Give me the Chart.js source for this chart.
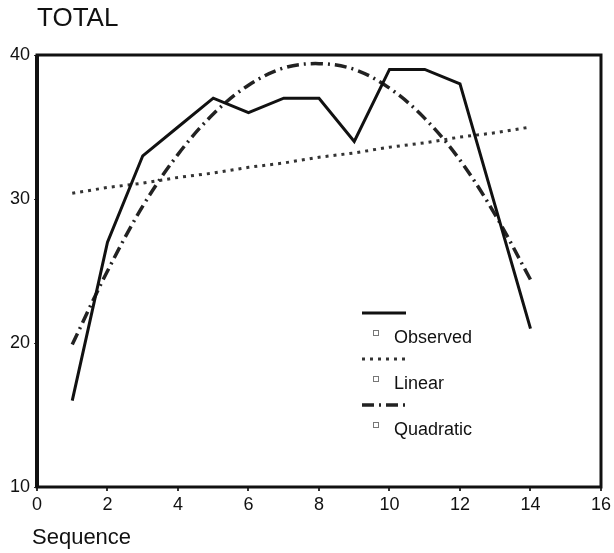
<!DOCTYPE html>
<html>
<head>
<meta charset="utf-8">
<script src="https://cdn.jsdelivr.net/npm/chart.js@4"></script>
<style>
  html, body { margin: 0; padding: 0; background: #fff; }
  #wrap { width: 614px; height: 553px; }
</style>
</head>
<body>
<div id="wrap"><canvas id="totalChart" width="614" height="553"></canvas></div>
<script>
const sequence = [1, 2, 3, 4, 5, 6, 7, 8, 9, 10, 11, 12, 13, 14];
const observed = [16, 27, 33, 35, 37, 36, 37, 37, 34, 39, 39, 38, 29.5, 21];
const linearFit = [30.4, 30.8, 31.1, 31.5, 31.8, 32.2, 32.5, 32.9, 33.2, 33.6, 33.9, 34.3, 34.6, 35.0];
const quadraticFit = [19.9, 25.0, 29.5, 33.1, 35.9, 37.9, 39.1, 39.4, 39.0, 37.7, 35.6, 32.7, 28.9, 24.4];
const xTicks = [0, 2, 4, 6, 8, 10, 12, 14, 16];
const yTicks = [10, 20, 30, 40];

const FONT = "'Liberation Sans', Arial, Helvetica, sans-serif";

function toPoints(values) {
  return sequence.map((x, i) => ({ x: x, y: values[i] }));
}

// frame, titles and the SPSS-style legend
const decorations = {
  id: "decorations",
  afterDraw(chart) {
    const ctx = chart.ctx;
    const area = chart.chartArea;

    ctx.save();
    ctx.strokeStyle = "#111";
    ctx.lineWidth = 3;
    ctx.strokeRect(area.left, area.top, area.right - area.left, area.bottom - area.top);
    ctx.lineWidth = 4;
    ctx.beginPath();
    ctx.moveTo(area.left, area.top);
    ctx.lineTo(area.left, area.bottom);
    ctx.stroke();

    ctx.fillStyle = "#111";
    ctx.textBaseline = "alphabetic";
    ctx.textAlign = "left";
    ctx.font = "26px " + FONT;
    ctx.fillText("TOTAL", 37, 26);
    ctx.font = "22px " + FONT;
    ctx.fillText("Sequence", 32, 544);

    const items = chart.data.datasets;
    items.forEach((ds, i) => {
      const y = 313 + i * 46;
      ctx.save();
      ctx.strokeStyle = ds.borderColor;
      ctx.lineWidth = ds.borderWidth;
      ctx.setLineDash(ds.borderDash || []);
      ctx.beginPath();
      ctx.moveTo(362, y);
      ctx.lineTo(406, y);
      ctx.stroke();
      ctx.restore();

      ctx.strokeStyle = "#777";
      ctx.lineWidth = 1;
      ctx.strokeRect(373.5, y + 17.5, 5, 5);

      ctx.fillStyle = "#111";
      ctx.font = "18px " + FONT;
      ctx.fillText(ds.label, 394, y + 30);
    });
    ctx.restore();
  }
};

new Chart(document.getElementById("totalChart"), {
  type: "line",
  data: {
    datasets: [
      {
        label: "Observed",
        data: toPoints(observed),
        borderColor: "#111",
        borderWidth: 3,
        pointRadius: 0,
        tension: 0
      },
      {
        label: "Linear",
        data: toPoints(linearFit),
        borderColor: "#333",
        borderWidth: 3,
        borderDash: [3, 5],
        pointRadius: 0,
        tension: 0
      },
      {
        label: "Quadratic",
        data: toPoints(quadraticFit),
        borderColor: "#222",
        borderWidth: 3.5,
        borderDash: [12, 5, 2, 5],
        pointRadius: 0,
        tension: 0.35
      }
    ]
  },
  options: {
    responsive: false,
    devicePixelRatio: 1,
    animation: false,
    layout: {
      padding: { top: 55, right: 10, left: 0, bottom: 0 }
    },
    plugins: {
      legend: { display: false },
      title: { display: false },
      tooltip: { enabled: false }
    },
    scales: {
      x: {
        type: "linear",
        min: 0,
        max: 16,
        afterBuildTicks: scale => {
          scale.ticks = xTicks.map(v => ({ value: v }));
        },
        afterFit: scale => {
          scale.height = 66;
        },
        ticks: {
          color: "#111",
          padding: 3,
          maxRotation: 0,
          font: { family: FONT, size: 18 }
        },
        grid: {
          drawOnChartArea: false,
          drawTicks: true,
          tickLength: 4,
          color: "#333",
          lineWidth: 2
        },
        border: { display: false }
      },
      y: {
        min: 10,
        max: 40,
        afterBuildTicks: scale => {
          scale.ticks = yTicks.map(v => ({ value: v }));
        },
        afterFit: scale => {
          scale.width = 37;
        },
        ticks: {
          color: "#111",
          padding: 4,
          font: { family: FONT, size: 18 }
        },
        grid: {
          drawOnChartArea: false,
          drawTicks: true,
          tickLength: 3,
          color: "#333",
          lineWidth: 1
        },
        border: { display: false }
      }
    }
  },
  plugins: [decorations]
});
</script>
</body>
</html>
